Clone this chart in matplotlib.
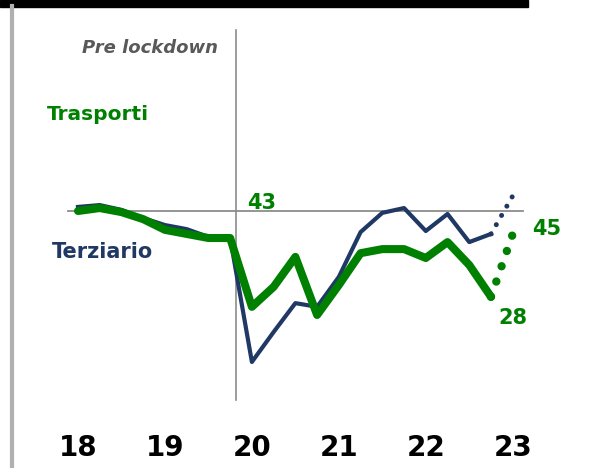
import matplotlib
matplotlib.use("Agg")
import matplotlib.pyplot as plt
from matplotlib.lines import Line2D
from matplotlib.patches import Rectangle

# ---- data (quarterly, 2018Q1 .. 2022Q4, then 2023 projection) ----
quarters = list(range(20))
terziario = [52.1, 52.6, 51.3, 49.1, 47.2, 46.1, 44.0, 43.7,
             10.2, 18.3, 26.1, 25.1, 33.2, 45.3, 50.5, 51.8,
             45.6, 50.2, 42.6, 44.8]
trasporti = [51.0, 51.8, 50.7, 48.8, 45.9, 44.8, 43.7, 43.7,
             25.1, 30.5, 38.6, 22.9, 31.0, 39.6, 40.7, 40.7,
             38.3, 42.6, 36.4, 27.8]
proj_x = [19, 20]
terziario_proj = [44.8, 55.1]
trasporti_proj = [27.8, 44.8]
year_labels = ["18", "19", "20", "21", "22", "23"]
year_pos = [0, 4, 8, 12, 16, 20]
baseline_value = 51
lockdown_x = 7.25
pre_lockdown_value = "43"
end_trasporti = "28"
proj_trasporti = "45"

GREEN = "#008000"
NAVY = "#1f3864"
FONT = "DejaVu Sans"

fig = plt.figure(figsize=(5.89, 4.68), dpi=100)
ax = fig.add_axes([0, 0, 1, 1])
ax.set_xlim(-3.588, 23.508)
ax.set_ylim(-18.46, 108.03)
ax.axis("off")

# decorations
fig.patches.append(Rectangle((0, 1 - 6.5 / 468), 528 / 589, 6.5 / 468,
                             transform=fig.transFigure, color="black", zorder=0))
fig.lines.append(Line2D([12 / 589, 12 / 589], [0, 1 - 6 / 468],
                        transform=fig.transFigure, color="#b0b0b0", lw=3))

# reference lines
ax.plot([-0.46, 20.47], [baseline_value, baseline_value], color="#8c8c8c", lw=1.3, zorder=1)
ax.plot([lockdown_x, lockdown_x], [0, 100], color="#8c8c8c", lw=1.2, zorder=1)

# series
ax.plot(quarters, terziario, color=NAVY, lw=3.0, zorder=3)
ax.plot(quarters, trasporti, color=GREEN, lw=5.8, solid_capstyle="round", zorder=4)
ax.plot(proj_x, terziario_proj, color=NAVY, lw=3.6, linestyle=(0, (0.01, 2.12)),
        dash_capstyle="round", zorder=3)
ax.plot(proj_x, trasporti_proj, color=GREEN, lw=6.0, linestyle=(0, (0.01, 1.93)),
        dash_capstyle="round", zorder=4)

# texts
ax.text(6.46, 95.0, "Pre lockdown", color="#595959", fontsize=13, style="italic",
        fontweight="bold", ha="right", va="center", family=FONT)
ax.text(-1.45, 77.1, "Trasporti", color=GREEN, fontsize=14.5, fontweight="bold",
        ha="left", va="center", family=FONT)
ax.text(-1.22, 39.9, "Terziario", color=NAVY, fontsize=15, fontweight="bold",
        ha="left", va="center", family=FONT)
ax.text(7.8, 53.2, pre_lockdown_value, color=GREEN, fontsize=15, fontweight="bold",
        ha="left", va="center", family=FONT)
ax.text(20.9, 46.1, proj_trasporti, color=GREEN, fontsize=15, fontweight="bold",
        ha="left", va="center", family=FONT)
ax.text(19.35, 22.0, end_trasporti, color=GREEN, fontsize=15, fontweight="bold",
        ha="left", va="center", family=FONT)
for pos, lab in zip(year_pos, year_labels):
    ax.text(pos, -13.0, lab, color="black", fontsize=20, fontweight="bold",
            ha="center", va="center", family=FONT)

fig.savefig("out.png", dpi=100)
